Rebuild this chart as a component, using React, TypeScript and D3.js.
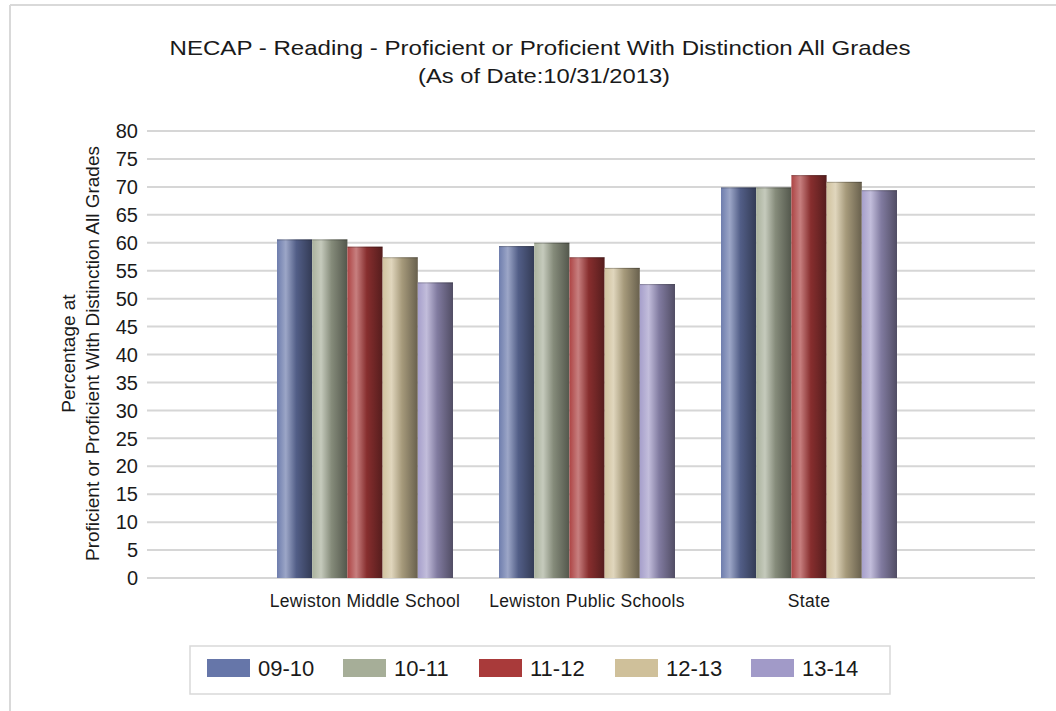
import React from "react";
import * as d3 from "d3";

const categories = ["Lewiston Middle School", "Lewiston Public Schools", "State"];
const seriesNames = ["09-10", "10-11", "11-12", "12-13", "13-14"];
const v0910 = [60.6, 59.4, 69.9];
const v1011 = [60.6, 60.0, 69.9];
const v1112 = [59.3, 57.4, 72.1];
const v1213 = [57.4, 55.5, 70.9];
const v1314 = [52.9, 52.6, 69.4];
const seriesValues = [v0910, v1011, v1112, v1213, v1314];
const colors = ["#6676A9", "#A6AE98", "#A93A3A", "#CFC09A", "#A19AC8"];
const yTicks = [0, 5, 10, 15, 20, 25, 30, 35, 40, 45, 50, 55, 60, 65, 70, 75, 80];

const W = 1056;
const H = 711;
const plotLeft = 147;
const plotRight = 1035;
const plotTop = 131;
const plotBottom = 578;
const FONT = "'Liberation Sans', Arial, sans-serif";

export default function App() {
  const y = d3.scaleLinear().domain([0, 80]).range([plotBottom, plotTop]);
  const x = d3.scalePoint<string>().domain(categories).range([plotLeft - 4, plotRight - 4]).padding(1);
  const groupW = 176;
  const inner = d3.scaleBand<string>().domain(seriesNames).range([-groupW / 2, groupW / 2]).padding(0);

  const legendX0 = 207;
  const legendStep = 136;

  return (
    <svg width={W} height={H} style={{ position: "absolute", left: 0, top: 0, background: "#fff" }} fontFamily={FONT}>
      <defs>
        {colors.map((c, i) => (
          <linearGradient key={i} id={`g${i}`} x1="0" x2="1" y1="0" y2="0">
            <stop offset="0%" stopColor={d3.interpolateRgb(c, "#ffffff")(0.05)} />
            <stop offset="25%" stopColor={d3.interpolateRgb(c, "#ffffff")(0.35)} />
            <stop offset="55%" stopColor={d3.interpolateRgb(c, "#000000")(0.2)} />
            <stop offset="100%" stopColor={d3.interpolateRgb(c, "#000000")(0.5)} />
          </linearGradient>
        ))}
      </defs>
      <rect x={0} y={0} width={W} height={H} fill="#fff" />
      {/* frame */}
      <line x1={10} x2={W} y1={5} y2={5} stroke="#d9d9d9" strokeWidth={2} />
      <line x1={10} x2={10} y1={5} y2={H} stroke="#d9d9d9" strokeWidth={2} />

      {/* title */}
      <text x={540} y={55} textAnchor="middle" fontSize={21} fill="#1a1a1a" textLength={741} lengthAdjust="spacingAndGlyphs">
        NECAP - Reading - Proficient or Proficient With Distinction All Grades
      </text>
      <text x={544} y={83} textAnchor="middle" fontSize={21} fill="#1a1a1a" textLength={252} lengthAdjust="spacingAndGlyphs">
        (As of Date:10/31/2013)
      </text>

      {/* gridlines */}
      {yTicks.map((t) => (
        <g key={t}>
          <line x1={plotLeft} x2={plotRight} y1={y(t)} y2={y(t)} stroke="#d6d6d6" strokeWidth={2} />
          <text x={138} y={y(t)} dy="0.36em" textAnchor="end" fontSize={20} fill="#1a1a1a">
            {t}
          </text>
        </g>
      ))}

      {/* y axis title */}
      <g transform={`translate(75,${(plotTop + plotBottom) / 2 - 1}) rotate(-90)`}>
        <text x={0} y={0} textAnchor="middle" fontSize={19} fill="#1a1a1a">Percentage at</text>
        <text x={0} y={24} textAnchor="middle" fontSize={19} fill="#1a1a1a">
          Proficient or Proficient With Distinction All Grades
        </text>
      </g>

      {/* bars */}
      {categories.map((cat, ci) => (
        <g key={cat} transform={`translate(${x(cat)},0)`}>
          {seriesNames.map((s, si) => {
            const v = seriesValues[si][ci];
            const bx = inner(s)!;
            const bw = inner.bandwidth();
            return (
              <g key={s}>
                <rect x={bx} y={y(v)} width={bw} height={y(0) - y(v)} fill={`url(#g${si})`} />
                <line x1={bx} x2={bx + bw} y1={y(v) + 0.5} y2={y(v) + 0.5} stroke="#000" strokeOpacity={0.25} strokeWidth={1} />
              </g>
            );
          })}
          <text x={0} y={607} textAnchor="middle" fontSize={17.5} fill="#1a1a1a" letterSpacing={0.3}>
            {cat}
          </text>
        </g>
      ))}

      {/* legend */}
      <rect x={190} y={646} width={700} height={48} fill="#fff" stroke="#d9d9d9" strokeWidth={1.5} />
      {seriesNames.map((s, i) => (
        <g key={s} transform={`translate(${legendX0 + i * legendStep},0)`}>
          <rect x={0} y={659} width={43} height={18} fill={colors[i]} />
          <text x={51} y={668} dy="0.36em" fontSize={22} fill="#1a1a1a">{s}</text>
        </g>
      ))}
    </svg>
  );
}
